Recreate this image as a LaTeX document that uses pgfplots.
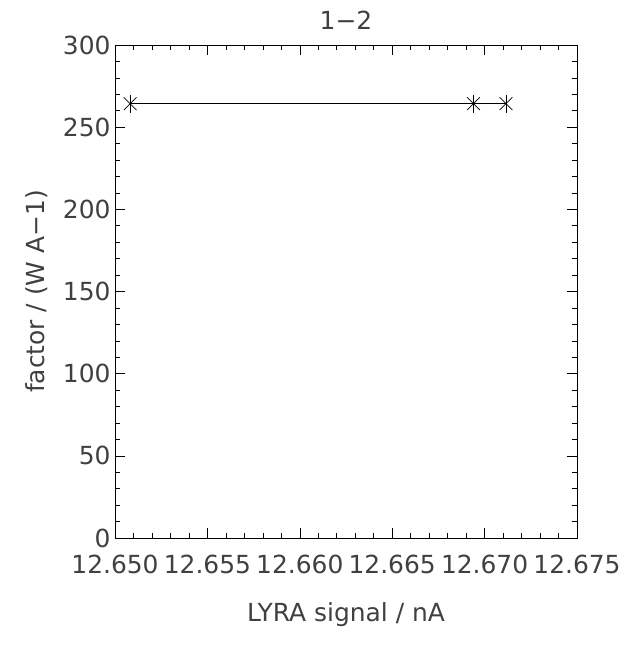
\documentclass[border=0pt]{standalone}
\usepackage{pgfplots}
\pgfplotsset{compat=1.18}
\usepackage{fontspec}
\setmainfont{DejaVu Sans}
\begin{document}
\begin{tikzpicture}
\begin{axis}[
  scale only axis,
  width=462bp, height=493bp,
  xmin=12.650, xmax=12.675,
  ymin=0, ymax=300,
  xtick={12.650,12.655,12.660,12.665,12.670,12.675},
  xticklabels={12.650,12.655,12.660,12.665,12.670,12.675},
  ytick={0,50,100,150,200,250,300},
  minor x tick num=4,
  minor y tick num=4,
  tick align=inside,
  major tick length=10bp,
  minor tick length=5bp,
  tick style={black, line width=0.6pt},
  axis line style={line width=0.8pt},
  /pgf/number format/assume math mode=true,
  ticklabel style={font=\fontsize{25}{28}\selectfont, color=black!75},
  xticklabel style={yshift=-13bp},
  yticklabel style={xshift=-1bp},
  scaled x ticks=false,
  title={1−2},
  title style={font=\fontsize{25}{28}\selectfont, color=black!75, yshift=6bp},
  xlabel={LYRA signal / nA},
  ylabel={factor / (W A−1)},
  label style={font=\fontsize{25}{28}\selectfont, color=black!75},
  xlabel style={yshift=-22bp},
  ylabel style={yshift=8bp},
  clip=false,
]
\addplot[black, line width=0.7pt, mark=x, mark size=9bp, mark options={line width=0.7pt}] coordinates {
  (12.65082, 264.3)
  (12.6694, 264.3)
  (12.67116, 264.3)
};
\addplot[only marks, black, mark=|, mark size=9bp, mark options={line width=0.7pt}] coordinates {
  (12.65082, 264.3)
  (12.6694, 264.3)
  (12.67116, 264.3)
};
\end{axis}
\pgfresetboundingbox
\path[use as bounding box] ([xshift=-115bp,yshift=-107bp]current axis.south west) rectangle ([xshift=60bp,yshift=45bp]current axis.north east);
\end{tikzpicture}
\end{document}
